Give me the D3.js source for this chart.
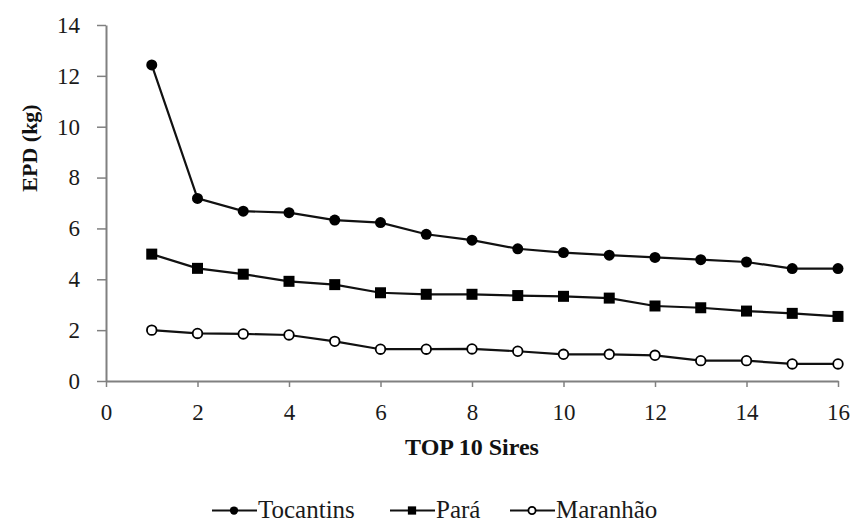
<!DOCTYPE html>
<html><head><meta charset="utf-8">
<script src="https://cdn.jsdelivr.net/npm/d3@7"></script>
<style>body{margin:0;background:#fff}svg{display:block}</style>
</head><body>
<svg id="c" width="857" height="523"></svg>
<script>
const sires = d3.range(1, 17);
const tocantins = [12.43, 7.18, 6.68, 6.62, 6.33, 6.23, 5.77, 5.54, 5.20, 5.05, 4.95, 4.86, 4.77, 4.68, 4.42, 4.42];
const para = [4.99, 4.43, 4.20, 3.92, 3.79, 3.47, 3.41, 3.41, 3.36, 3.33, 3.26, 2.95, 2.88, 2.75, 2.66, 2.54];
const maranhao = [2.00, 1.87, 1.85, 1.81, 1.56, 1.25, 1.25, 1.26, 1.17, 1.05, 1.05, 1.01, 0.80, 0.80, 0.67, 0.67];
const xTicks = d3.range(0, 17, 2);
const yTicks = d3.range(0, 15, 2);
const seriesNames = ["Tocantins", "Pará", "Maranhão"];
const seriesData = [tocantins, para, maranhao];
const markerTypes = ["circle", "square", "open"];

const FONT = "'Liberation Serif'";
const svg = d3.select("#c");
const x = d3.scaleLinear().domain([0, 16]).range([106, 838]);
const y = d3.scaleLinear().domain([0, 14]).range([381, 25]);

const axisColor = "#808080";
const gx = svg.append("g").attr("transform", "translate(0,381)")
  .call(d3.axisBottom(x).tickValues(xTicks).tickSizeOuter(0).tickSizeInner(6).tickPadding(11));
const gy = svg.append("g").attr("transform", "translate(106,0)")
  .call(d3.axisLeft(y).tickValues(yTicks).tickSizeOuter(0).tickSizeInner(9).tickPadding(17));
[gx, gy].forEach(g => {
  g.attr("font-family", null).attr("font-size", null);
  g.select(".domain").attr("stroke", axisColor).attr("stroke-width", 2);
  g.selectAll(".tick line").attr("stroke", axisColor).attr("stroke-width", 1.5);
  g.selectAll("text").style("font-family", FONT).style("font-size", "23px").attr("fill", "#1a1a1a");
});
gx.selectAll("text").attr("dy", "0.95em");

svg.append("text").attr("x", x(8)).attr("y", 455).attr("text-anchor", "middle")
  .style("font-family", FONT).style("font-size", "24px").attr("font-weight", "bold").attr("fill", "#111")
  .text("TOP 10 Sires");
svg.append("text").attr("transform", "translate(37,148) rotate(-90)").attr("text-anchor", "middle")
  .style("font-family", FONT).style("font-size", "22px").attr("font-weight", "bold").attr("fill", "#111")
  .text("EPD (kg)");

function drawMarker(g, type, cx, cy, s) {
  if (type === "circle") g.append("circle").attr("cx", cx).attr("cy", cy).attr("r", 5.5 * s).attr("fill", "#000");
  else if (type === "square") g.append("rect").attr("x", cx - 5.5 * s).attr("y", cy - 5.5 * s)
    .attr("width", 11 * s).attr("height", 11 * s).attr("fill", "#000");
  else g.append("circle").attr("cx", cx).attr("cy", cy).attr("r", 4.8 * s).attr("fill", "#fff")
    .attr("stroke", "#000").attr("stroke-width", 1.8);
}

const line = d3.line().x((d, i) => x(sires[i])).y(d => y(d));
seriesData.forEach((vals, k) => {
  const g = svg.append("g");
  g.append("path").attr("d", line(vals)).attr("fill", "none").attr("stroke", "#111").attr("stroke-width", 2.2);
  vals.forEach((v, i) => drawMarker(g, markerTypes[k], x(sires[i]), y(v), 1));
});

const legX = [212, 390, 510];
seriesNames.forEach((n, k) => {
  const g = svg.append("g");
  const x0 = legX[k];
  g.append("line").attr("x1", x0).attr("x2", x0 + 45).attr("y1", 510.5).attr("y2", 510.5)
    .attr("stroke", "#111").attr("stroke-width", 2);
  drawMarker(g, markerTypes[k], x0 + 22, 510.5, 0.75);
  g.append("text").attr("x", x0 + 46).attr("y", 518).style("font-family", FONT).style("font-size", "25px")
    .attr("fill", "#1a1a1a").text(n);
});
</script>
</body></html>
